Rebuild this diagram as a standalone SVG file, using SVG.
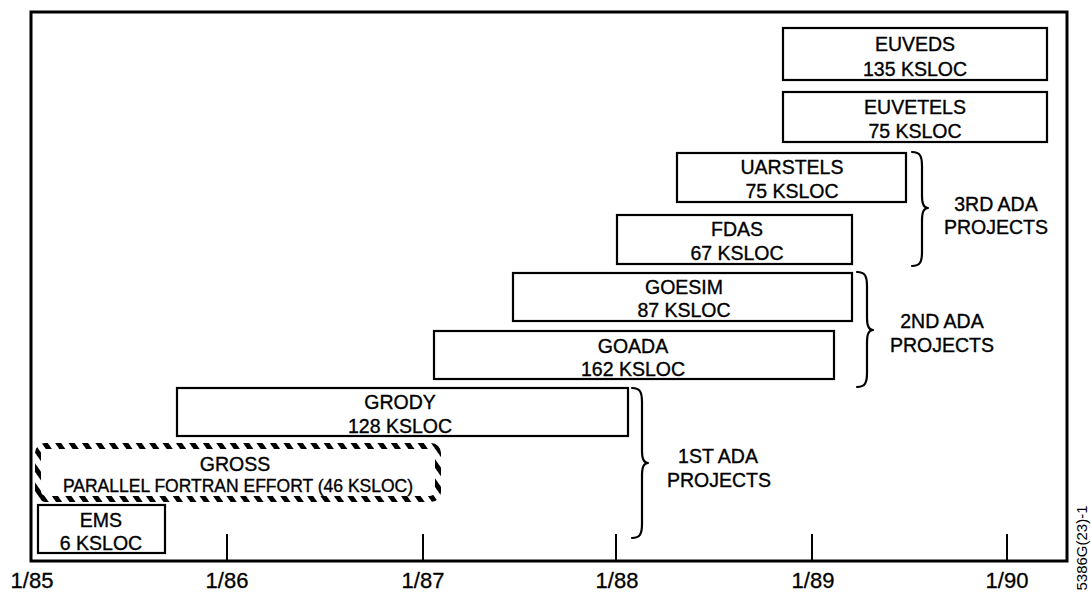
<svg xmlns="http://www.w3.org/2000/svg" width="1091" height="592" viewBox="0 0 1091 592">
<style>
.box{fill:#fff;stroke:#000;stroke-width:2.2}
.t{font-family:"Liberation Sans",Arial,sans-serif;font-size:19.5px;fill:#000;stroke:#000;stroke-width:0.35;text-anchor:middle}
.ax{font-family:"Liberation Sans",Arial,sans-serif;font-size:22px;fill:#000;stroke:#000;stroke-width:0.3;text-anchor:middle}
.br{fill:none;stroke:#000;stroke-width:2.2;stroke-linecap:round;stroke-linejoin:round}
.tick{stroke:#000;stroke-width:2}
</style>
<defs>
<pattern id="hatch" width="11" height="11" patternUnits="userSpaceOnUse" patternTransform="rotate(-35)">
<rect x="0" y="0" width="5" height="11" fill="#000"/>
</pattern>
</defs>
<rect width="1091" height="592" fill="#fff"/>
<g id="frame">
<rect x="31" y="12" width="1036" height="549" fill="none" stroke="#000" stroke-width="3"/>
<line class="tick" x1="227" y1="534" x2="227" y2="561"/>
<line class="tick" x1="423" y1="534" x2="423" y2="561"/>
<line class="tick" x1="616" y1="534" x2="616" y2="561"/>
<line class="tick" x1="812" y1="534" x2="812" y2="561"/>
<line class="tick" x1="1007" y1="534" x2="1007" y2="561"/>
<text class="ax" x="32" y="588">1/85</text>
<text class="ax" x="227" y="588">1/86</text>
<text class="ax" x="423" y="588">1/87</text>
<text class="ax" x="617" y="588">1/88</text>
<text class="ax" x="813" y="588">1/89</text>
<text class="ax" x="1007" y="588">1/90</text>
<text font-family="Liberation Sans, Arial, sans-serif" font-size="15" text-anchor="middle" transform="translate(1087,548) rotate(-90)">5386G(23)-1</text>
</g>
<g id="euveds">
<rect class="box" x="783" y="28" width="264" height="52"/>
<text class="t" x="915" y="51">EUVEDS</text>
<text class="t" x="915" y="76">135 KSLOC</text>
</g>
<g id="euvetels">
<rect class="box" x="783" y="92" width="264" height="50"/>
<text class="t" x="915" y="114">EUVETELS</text>
<text class="t" x="915" y="138">75 KSLOC</text>
</g>
<g id="uarstels">
<rect class="box" x="677" y="153" width="229" height="49"/>
<text class="t" x="792" y="174">UARSTELS</text>
<text class="t" x="792" y="198">75 KSLOC</text>
</g>
<g id="fdas">
<rect class="box" x="617" y="215" width="235" height="49"/>
<text class="t" x="737" y="236">FDAS</text>
<text class="t" x="737" y="260">67 KSLOC</text>
</g>
<g id="goesim">
<rect class="box" x="513" y="273" width="339" height="48"/>
<text class="t" x="684" y="294">GOESIM</text>
<text class="t" x="684" y="317">87 KSLOC</text>
</g>
<g id="goada">
<rect class="box" x="434" y="331" width="400" height="48"/>
<text class="t" x="633" y="353">GOADA</text>
<text class="t" x="633" y="376">162 KSLOC</text>
</g>
<g id="grody">
<rect class="box" x="177" y="388" width="451" height="48"/>
<text class="t" x="400" y="409">GRODY</text>
<text class="t" x="400" y="433">128 KSLOC</text>
</g>
<g id="gross">
<path fill="url(#hatch)" fill-rule="evenodd" d="M45,443 H431 A10,10 0 0 1 441,453 V492 A10,10 0 0 1 431,502 H45 A10,10 0 0 1 35,492 V453 A10,10 0 0 1 45,443 Z M46,449 H430 A5,5 0 0 1 435,454 V491 A5,5 0 0 1 430,496 H46 A5,5 0 0 1 41,491 V454 A5,5 0 0 1 46,449 Z"/>
<text class="t" x="235" y="471">GROSS</text>
<text class="t" x="238" y="492" style="font-size:17.5px">PARALLEL FORTRAN EFFORT (46 KSLOC)</text>
</g>
<g id="ems">
<rect class="box" x="38" y="505" width="127" height="48"/>
<text class="t" x="101" y="527">EMS</text>
<text class="t" x="101" y="550">6 KSLOC</text>
</g>
<g id="connectors">
<path class="br" d="M912,152 C920,152 922,156 922,166 V196 C922,204 924,208 928,208 C924,208 922,212 922,220 V252 C922,262 920,266 912,266"/>
<path class="br" d="M857,272 C865,272 867,276 867,286 V318 C867,326 869,330 873,330 C869,330 867,334 867,342 V373 C867,383 865,387 857,387"/>
<path class="br" d="M632,388 C640,388 642,392 642,402 V451 C642,459 644,463 648,463 C644,463 642,467 642,475 V524 C642,534 640,538 632,538"/>
</g>
<g id="labels">
<text class="t" x="996" y="211">3RD ADA</text>
<text class="t" x="996" y="234">PROJECTS</text>
<text class="t" x="942" y="328">2ND ADA</text>
<text class="t" x="942" y="352">PROJECTS</text>
<text class="t" x="718" y="463">1ST ADA</text>
<text class="t" x="719" y="487">PROJECTS</text>
</g>
</svg>
